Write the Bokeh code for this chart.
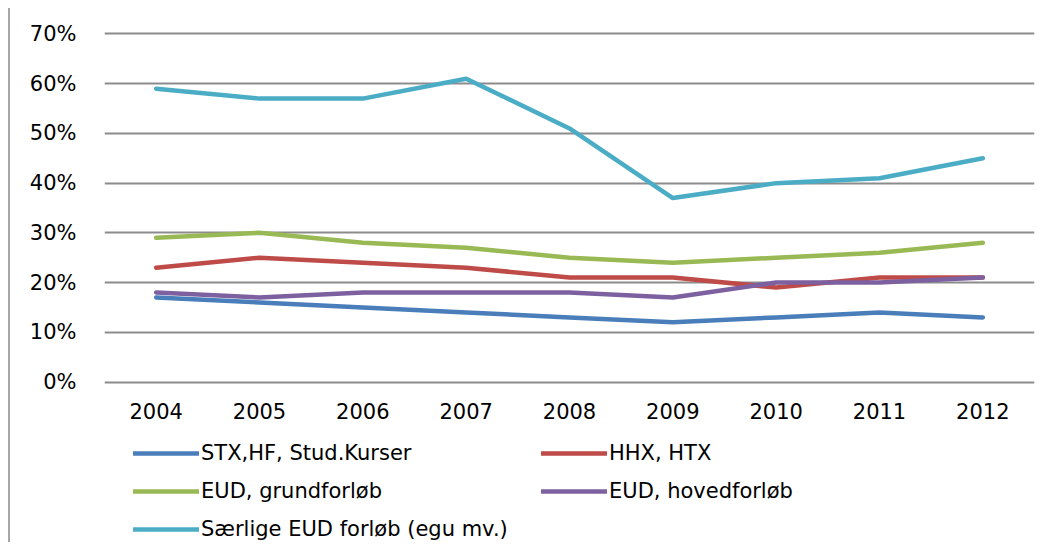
from bokeh.plotting import figure
from bokeh.models import Legend, LegendItem, NumeralTickFormatter, FixedTicker, Range1d
from bokeh.layouts import column
from bokeh.embed import file_html
from bokeh.resources import INLINE

years = ["2004", "2005", "2006", "2007", "2008", "2009", "2010", "2011", "2012"]
stx = [0.17, 0.16, 0.15, 0.14, 0.13, 0.12, 0.13, 0.14, 0.13]
hhx = [0.23, 0.25, 0.24, 0.23, 0.21, 0.21, 0.19, 0.21, 0.21]
eud_grund = [0.29, 0.30, 0.28, 0.27, 0.25, 0.24, 0.25, 0.26, 0.28]
eud_hoved = [0.18, 0.17, 0.18, 0.18, 0.18, 0.17, 0.20, 0.20, 0.21]
saerlige = [0.59, 0.57, 0.57, 0.61, 0.51, 0.37, 0.40, 0.41, 0.45]
labels = ["STX,HF, Stud.Kurser", "HHX, HTX", "EUD, grundforløb", "EUD, hovedforløb", "Særlige EUD forløb (egu mv.)"]
colors = ["#4A7EBB", "#BE4B48", "#98B954", "#7D60A0", "#4BACC6"]
series = [stx, hhx, eud_grund, eud_hoved, saerlige]
y_ticks = [0, 0.1, 0.2, 0.3, 0.4, 0.5, 0.6, 0.7]

FONT = "DejaVu Sans"
FS = "21px"

p = figure(x_range=years, y_range=Range1d(-0.005, 0.705), width=1035, height=417,
           output_backend="svg", toolbar_location=None,
           min_border_left=94, min_border_right=11, min_border_top=23,
           min_border_bottom=41)
p.outline_line_color = None
p.xgrid.grid_line_color = None
p.ygrid.grid_line_color = "#8C8C8C"
p.ygrid.grid_line_width = 2
p.yaxis.ticker = FixedTicker(ticks=y_ticks)
p.yaxis.formatter = NumeralTickFormatter(format="0%")
for ax in (p.xaxis[0], p.yaxis[0]):
    ax.axis_line_color = None
    ax.major_tick_line_color = None
    ax.minor_tick_line_color = None
    ax.major_label_text_font = FONT
    ax.major_label_text_font_size = FS
    ax.major_label_text_color = "#000000"
p.yaxis.major_label_standoff = 22
p.xaxis.major_label_standoff = 12
p.x_range.range_padding = 0

for s, c in zip(series, colors):
    p.line(years, s, line_color=c, line_width=4.5, line_cap="round", line_join="round")

# legend figure
p2 = figure(width=1035, height=117, x_range=Range1d(0, 1), y_range=Range1d(0, 1),
            x_axis_type=None, y_axis_type=None,
            output_backend="svg", toolbar_location=None,
            min_border_left=0, min_border_right=0, min_border_top=0, min_border_bottom=0)
p2.grid.grid_line_color = None
p2.outline_line_color = None
items = []
for l, c in zip(labels, colors):
    r = p2.line(x=[float("nan")], y=[float("nan")], line_color=c, line_width=4.5, line_cap="round")
    items.append(LegendItem(label=l, renderers=[r]))
order = [0, 2, 4, 1, 3]
legend = Legend(items=[items[i] for i in order], ncols=2, location=(29, 1),
                label_text_font=FONT, label_text_font_size=FS, label_text_color="#000000",
                glyph_width=66, glyph_height=20, label_standoff=2,
                label_width=326, spacing=14, margin=0, padding=0,
                border_line_color=None, background_fill_alpha=0,
                label_height=20)
p2.add_layout(legend, "center")

layout = column(p, p2, spacing=0,
                styles={"border-left": "2px solid #A6A6A6", "margin-left": "8px", "margin-top": "8px"})

open("out.html", "w").write(file_html(layout, INLINE))
